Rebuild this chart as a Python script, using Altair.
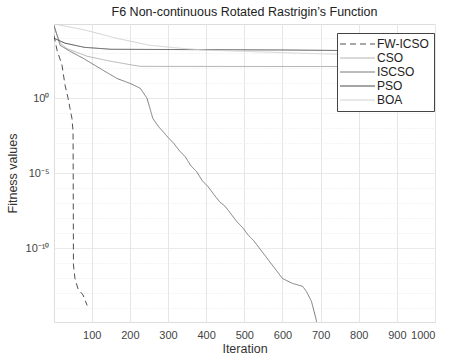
import altair as alt
import pandas as pd

series_names = ["FW-ICSO", "CSO", "ISCSO", "PSO", "BOA"]
series_colors = ["#505050", "#b4b4b4", "#7a7a7a", "#4a4a4a", "#d2d2d2"]
series_dash = [[6, 4], [1, 0], [1, 0], [1, 0], [1, 0]]

fw_iter = [1, 9, 22, 30, 38, 43, 48, 51, 52, 56, 64, 77, 88]
fw_val = [1.5e4, 1.6e3, 1.6e2, 7.4, 1.0, 2.1e-1, 4.7e-2, 6.3e-3, 8.0e-12, 1.0e-12, 2.0e-13, 8.0e-14, 1.6e-14]

cso_iter = [1, 5, 18, 34, 88, 148, 209, 227, 400, 700, 1000]
cso_val = [6.3e4, 3.0e4, 4.7e3, 2.1e3, 6.3e2, 3.0e2, 1.6e2, 1.35e2, 1.33e2, 1.32e2, 1.3e2]

iscso_iter = [1, 17, 43, 77, 121, 166, 200, 227, 245, 260, 275, 290, 300, 315, 330, 345, 360,
              375, 390, 405, 420, 435, 450, 465, 480, 495, 510, 525, 540, 555, 570, 585, 600,
              626, 653, 663, 676, 683, 689, 695]
iscso_val = [7.4e4, 3.4e3, 1.35e3, 4.7e2, 1.0e2, 2.1e1, 1.0e1, 4.7, 1.0, 4.7e-2, 1.3e-2, 5.0e-3,
             2.5e-3, 1.0e-3, 3.2e-4, 1.3e-4, 3.2e-5, 1.3e-5, 3.2e-6, 1.3e-6, 4.0e-7, 1.3e-7,
             6.3e-8, 2.0e-8, 6.3e-9, 2.5e-9, 7.9e-10, 3.2e-10, 1.0e-10, 3.2e-11, 1.0e-11,
             3.2e-12, 1.0e-12, 4.7e-13, 3.0e-13, 1.35e-13, 3.0e-14, 6.3e-15, 1.6e-15, 1.0e-16]

pso_iter = [1, 30, 80, 150, 300, 600, 1000]
pso_val = [1.0e4, 4.7e3, 2.5e3, 1.85e3, 1.78e3, 1.66e3, 1.35e3]

boa_iter = [1, 85, 165, 252, 339, 402, 500, 650, 800, 1000]
boa_val = [9.0e4, 3.4e4, 1.0e4, 3.4e3, 2.1e3, 1.6e3, 1.35e3, 1.0e3, 8.0e2, 6.3e2]

x_ticks = [100, 200, 300, 400, 500, 600, 700, 800, 900, 1000]
y_decades = [10.0 ** k for k in range(-14, 5)]

rows = []
for name, its, vals in [("FW-ICSO", fw_iter, fw_val), ("CSO", cso_iter, cso_val),
                        ("ISCSO", iscso_iter, iscso_val), ("PSO", pso_iter, pso_val),
                        ("BOA", boa_iter, boa_val)]:
    for i, (it, v) in enumerate(zip(its, vals)):
        rows.append({"series": name, "iter": it, "value": v, "idx": i})
df = pd.DataFrame(rows)

FONT = "Liberation Sans"
lg = "round(log(datum.value)/LN10)"
label_expr = (f"{lg} == 0 ? '10\u2070' : {lg} == -5 ? '10\u207b\u2075' : "
              f"{lg} == -10 ? '10\u207b\u00b9\u2070' : ''")
major_test = f"{lg} == 0 || {lg} == -5 || {lg} == -10"


def make_legend():
    return alt.Legend(title=None, orient="none", legendX=283, legendY=9,
                      symbolType="M-3.5,0H3.5", symbolSize=100, symbolStrokeWidth=1,
                      symbolOffset=9.5, labelOffset=13.5, labelFont=FONT, labelFontSize=12,
                      labelColor="#222", rowPadding=2, padding=5, fillColor="white",
                      strokeColor="#444")


chart = alt.Chart(df).mark_line(strokeWidth=1, clip=True).encode(
    x=alt.X("iter:Q",
            scale=alt.Scale(domain=[1, 1000], nice=False, zero=False),
            axis=alt.Axis(title="Iteration", values=x_ticks, format="d", labelFont=FONT,
                          labelFontSize=11, labelColor="#444", labelPadding=7, ticks=False,
                          domain=False, gridColor="#e6e6e6", titleFont=FONT, titleFontSize=12.5,
                          titleFontWeight="normal", titleColor="#333", titleY=26,
                          titleBaseline="middle")),
    y=alt.Y("value:Q",
            scale=alt.Scale(type="log", domain=[10 ** -14.9, 10 ** 4.95], nice=False),
            axis=alt.Axis(title="Fitness values", values=y_decades, labelExpr=label_expr,
                          labelFont=FONT, labelFontSize=11, labelColor="#444", labelPadding=5,
                          ticks=False, domain=False,
                          gridColor={"condition": {"test": major_test, "value": "#e2e2e2"},
                                     "value": "#e8e8e8"},
                          gridDash={"condition": {"test": major_test, "value": [1, 0]},
                                    "value": [1, 2]},
                          titleFont=FONT, titleFontSize=12.5, titleFontWeight="normal",
                          titleColor="#333", titleX=-42, titleY=149, titleAngle=-90,
                          titleBaseline="middle")),
    color=alt.Color("series:N",
                    scale=alt.Scale(domain=series_names, range=series_colors),
                    legend=make_legend()),
    strokeDash=alt.StrokeDash("series:N",
                              scale=alt.Scale(domain=series_names, range=series_dash),
                              legend=make_legend()),
    order="idx:Q",
).properties(
    width=381, height=298,
    title=alt.TitleParams("F6 Non-continuous Rotated Rastrigin\u2019s Function", font=FONT,
                          fontSize=12.5, fontWeight="normal", color="#222", offset=6),
    autosize=alt.AutoSizeParams(type="none"),
    padding={"left": 54, "top": 24, "right": 14, "bottom": 39},
).configure_view(stroke="#555", strokeWidth=1).configure(background="white")

chart.save("out.html", embed_options={"renderer": "svg", "actions": False})
